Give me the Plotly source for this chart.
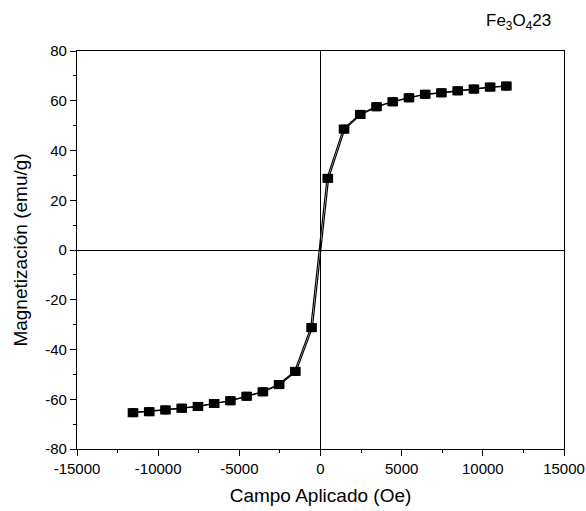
import plotly.graph_objects as go

# Descending branch (from +H to -H)
H_down = [11400, 10400, 9400, 8400, 7400, 6400, 5400, 4400, 3400, 2400, 1400, 400,
          -600, -1600, -2600, -3600, -4600, -5600, -6600, -7600, -8600, -9600, -10600, -11600]
M_down = [65.9, 65.5, 64.7, 64.0, 63.2, 62.6, 61.2, 59.6, 57.6, 54.5, 48.6, 28.8,
          -31.2, -48.8, -54.1, -57.0, -58.8, -60.6, -61.7, -62.9, -63.6, -64.3, -65.0, -65.4]
# Ascending branch (from -H to +H)
H_up = [-11500, -10500, -9500, -8500, -7500, -6500, -5500, -4500, -3500, -2500, -1500, -500,
        500, 1500, 2500, 3500, 4500, 5500, 6500, 7500, 8500, 9500, 10500, 11500]
M_up = [-65.4, -65.0, -64.3, -63.6, -62.9, -61.7, -60.6, -58.8, -57.0, -54.1, -48.8, -31.2,
        28.8, 48.6, 54.5, 57.6, 59.6, 61.2, 62.6, 63.2, 64.0, 64.7, 65.5, 65.9]

x_tickvals = [-15000, -10000, -5000, 0, 5000, 10000, 15000]
x_ticktext = ["-15000", "-10000", "-5000", "0", "5000", "10000", "15000"]
y_tickvals = [-80, -60, -40, -20, 0, 20, 40, 60, 80]
y_ticktext = ["-80", "-60", "-40", "-20", "0", "20", "40", "60", "80"]

FONT = "Liberation Sans, Arial, sans-serif"

fig = go.Figure()
for hx, my in [(H_down, M_down), (H_up, M_up)]:
    fig.add_trace(go.Scatter(
        x=hx, y=my, mode="lines+markers",
        line=dict(color="black", width=1.2),
        marker=dict(symbol="square", size=9, color="black"),
        showlegend=False,
    ))

axis_common = dict(
    showline=True, linecolor="black", linewidth=1.3, mirror=True,
    ticks="outside", ticklen=6, tickwidth=1.2, tickcolor="black",
    showgrid=False, zeroline=True, zerolinecolor="black", zerolinewidth=1.2,
    tickfont=dict(family=FONT, size=15, color="black"),
    automargin=False,
)

fig.update_xaxes(
    range=[-15000, 15000], tickmode="array", tickvals=x_tickvals, ticktext=x_ticktext,
    minor=dict(ticks="outside", ticklen=3, tickwidth=1.2, tickcolor="black", dtick=2500, tick0=0, showgrid=False),
    title=dict(text="Campo Aplicado (Oe)", font=dict(family=FONT, size=19, color="black"), standoff=12),
    **axis_common,
)
fig.update_yaxes(
    range=[-80, 80], tickmode="array", tickvals=y_tickvals, ticktext=y_ticktext,
    minor=dict(ticks="outside", ticklen=3, tickwidth=1.2, tickcolor="black", dtick=10, tick0=0, showgrid=False),
    title=dict(text="Magnetización (emu/g)", font=dict(family=FONT, size=19, color="black"), standoff=12),
    **axis_common,
)

fig.add_annotation(
    text="Fe<sub>3</sub>O<sub>4</sub>23", xref="paper", yref="paper",
    x=0.836, y=1.072, xanchor="left", yanchor="middle", showarrow=False,
    font=dict(family=FONT, size=17, color="black"),
)

fig.update_layout(
    width=586, height=511,
    margin=dict(l=77, r=22, t=51, b=62),
    paper_bgcolor="white", plot_bgcolor="white",
    font=dict(family=FONT, color="black"),
)

fig.write_html("out.html", config={"displayModeBar": False},
               post_script="document.body.style.margin='0';")
